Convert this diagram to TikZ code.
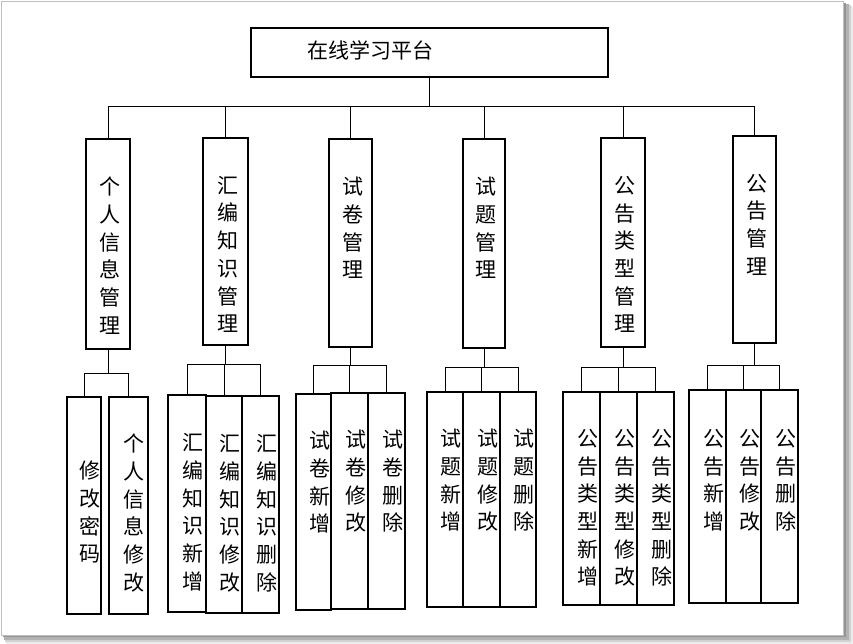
\documentclass[tikz,border=0pt]{standalone}
\usepackage{fontspec}
\newfontfamily\cjk{Noto Sans CJK SC}
\usetikzlibrary{positioning}
\begin{document}
\begin{tikzpicture}[x=1pt,y=-1pt,
    box/.style={draw,line width=1.2pt,inner sep=0pt},
    mbox/.style={box,minimum width=44pt,minimum height=208pt},
    sbox/.style={box,minimum width=37pt,minimum height=216pt},
    lbl/.style={font={\cjk\fontsize{21}{27.7}\selectfont},align=center,inner sep=0pt,anchor=north},
    conn/.style={line width=1pt}]
    \useasboundingbox (0,0) rectangle (853,644);
    % ---- page with shadow ----
    \fill[black!8] (6,6) rectangle (853,644);
    \fill[black!18] (5,5) rectangle (851,642);
    \fill[black!30] (4,4) rectangle (849,640);
    \fill[black!42] (3,3) rectangle (846,637);
    \filldraw[fill=white,draw=black!25,line width=0.6pt] (1,1) rectangle (843,635);
    % ---- root ----
    \node[box,minimum width=357pt,minimum height=49pt] (root) at (429.5,52.5) {};
    \node[lbl,anchor=center] (roott) at (370,50) {在线学习平台};
    % ---- level 2 ----
    \node[mbox,minimum height=210pt] (m1) at (108,244) {};
    \node[mbox,minimum width=45pt,minimum height=207pt] (m2) at (225.5,241.5) {};
    \node[mbox,minimum width=43pt] (m3) at (350.5,243) {};
    \node[mbox,minimum width=42pt,minimum height=209pt] (m4) at (484,243.5) {};
    \node[mbox,minimum height=209pt] (m5) at (623,242.5) {};
    \node[mbox,minimum width=43pt,minimum height=207pt] (m6) at (754.5,239.5) {};
    \node[lbl] (m1t) at ([xshift=2pt,yshift=-38.5pt]m1.north) {个\\人\\信\\息\\管\\理};
    \node[lbl] (m2t) at ([xshift=2pt,yshift=-38.5pt]m2.north) {汇\\编\\知\\识\\管\\理};
    \node[lbl] (m3t) at ([xshift=2pt,yshift=-38.5pt]m3.north) {试\\卷\\管\\理};
    \node[lbl] (m4t) at ([xshift=2pt,yshift=-38.5pt]m4.north) {试\\题\\管\\理};
    \node[lbl] (m5t) at ([xshift=2pt,yshift=-38.5pt]m5.north) {公\\告\\类\\型\\管\\理};
    \node[lbl] (m6t) at ([xshift=2pt,yshift=-38.5pt]m6.north) {公\\告\\管\\理};
    % ---- level 3 ----
    \node[sbox,minimum width=34pt,minimum height=217pt] (a1) at (84,505.5) {};
    \node[sbox,minimum width=39pt,minimum height=217pt] (a2) at (128.5,505.5) {};
    \node[sbox,minimum width=38pt,minimum height=217pt] (b1) at (187,503.5) {};
    \node[sbox,minimum width=36pt,minimum height=217pt] (b2) at (224,504.5) {};
    \node[sbox,minimum height=217pt] (b3) at (260.5,504.5) {};
    \node[sbox,minimum width=35pt] (c1) at (313.5,502) {};
    \node[sbox] (c2) at (349.5,501) {};
    \node[sbox] (c3) at (386.5,501) {};
    \node[sbox,minimum width=36pt,minimum height=215pt] (d1) at (445,499.5) {};
    \node[sbox,minimum height=215pt] (d2) at (481.5,499.5) {};
    \node[sbox,minimum width=36pt,minimum height=215pt] (d3) at (518,499.5) {};
    \node[sbox,minimum height=213pt] (e1) at (581.5,498.5) {};
    \node[sbox,minimum height=213pt] (e2) at (618.5,498.5) {};
    \node[sbox,minimum height=213pt] (e3) at (655.5,498.5) {};
    \node[sbox,minimum height=213pt] (f1) at (707.5,496.5) {};
    \node[sbox,minimum width=35pt,minimum height=213pt] (f2) at (743.5,496.5) {};
    \node[sbox,minimum height=213pt] (f3) at (779.5,496.5) {};
    \node[lbl] (a1t) at ([xshift=6pt,yshift=-64.5pt]a1.north) {修\\改\\密\\码};
    \node[lbl] (a2t) at ([xshift=5pt,yshift=-37.5pt]a2.north) {个\\人\\信\\息\\修\\改};
    \node[lbl] (b1t) at ([xshift=6pt,yshift=-39pt]b1.north) {汇\\编\\知\\识\\新\\增};
    \node[lbl] (b2t) at ([xshift=6pt,yshift=-39pt]b2.north) {汇\\编\\知\\识\\修\\改};
    \node[lbl] (b3t) at ([xshift=6pt,yshift=-39pt]b3.north) {汇\\编\\知\\识\\删\\除};
    \node[lbl] (c1t) at ([xshift=6pt,yshift=-37.5pt]c1.north) {试\\卷\\新\\增};
    \node[lbl] (c2t) at ([xshift=6pt,yshift=-37.5pt]c2.north) {试\\卷\\修\\改};
    \node[lbl] (c3t) at ([xshift=6pt,yshift=-37.5pt]c3.north) {试\\卷\\删\\除};
    \node[lbl] (d1t) at ([xshift=6pt,yshift=-37.5pt]d1.north) {试\\题\\新\\增};
    \node[lbl] (d2t) at ([xshift=6pt,yshift=-37.5pt]d2.north) {试\\题\\修\\改};
    \node[lbl] (d3t) at ([xshift=6pt,yshift=-37.5pt]d3.north) {试\\题\\删\\除};
    \node[lbl] (e1t) at ([xshift=6pt,yshift=-37.5pt]e1.north) {公\\告\\类\\型\\新\\增};
    \node[lbl] (e2t) at ([xshift=6pt,yshift=-37.5pt]e2.north) {公\\告\\类\\型\\修\\改};
    \node[lbl] (e3t) at ([xshift=6pt,yshift=-37.5pt]e3.north) {公\\告\\类\\型\\删\\除};
    \node[lbl] (f1t) at ([xshift=6pt,yshift=-39.5pt]f1.north) {公\\告\\新\\增};
    \node[lbl] (f2t) at ([xshift=6pt,yshift=-39.5pt]f2.north) {公\\告\\修\\改};
    \node[lbl] (f3t) at ([xshift=6pt,yshift=-39.5pt]f3.north) {公\\告\\删\\除};
    % ---- connectors : root to level 2 ----
    \coordinate (bus) at (0,107);
    \draw[conn] (root.south) -- (root.south |- bus);
    \draw[conn] (m1.north |- bus) -- (m6.north |- bus);
    \draw[conn] (m1.north) -- (m1.north |- bus);
    \draw[conn] (m2.north) -- (m2.north |- bus);
    \draw[conn] (m3.north) -- (m3.north |- bus);
    \draw[conn] (m4.north) -- (m4.north |- bus);
    \draw[conn] (m5.north) -- (m5.north |- bus);
    \draw[conn] (m6.north) -- (m6.north |- bus);
    % ---- connectors : level 2 to level 3 ----
    \coordinate (s1) at (0,373);
    \draw[conn] (m1.south) -- (m1.south |- s1);
    \draw[conn] (a1.north |- s1) -- (a2.north |- s1);
    \draw[conn] (a1.north) -- (a1.north |- s1);
    \draw[conn] (a2.north) -- (a2.north |- s1);
    \coordinate (s2) at (0,364);
    \draw[conn] (m2.south) -- (m2.south |- s2);
    \draw[conn] (b1.north |- s2) -- (b3.north |- s2);
    \draw[conn] (b1.north) -- (b1.north |- s2);
    \draw[conn] (b2.north) -- (b2.north |- s2);
    \draw[conn] (b3.north) -- (b3.north |- s2);
    \coordinate (s3) at (0,365);
    \draw[conn] (m3.south) -- (m3.south |- s3);
    \draw[conn] (c1.north |- s3) -- (c3.north |- s3);
    \draw[conn] (c1.north) -- (c1.north |- s3);
    \draw[conn] (c2.north) -- (c2.north |- s3);
    \draw[conn] (c3.north) -- (c3.north |- s3);
    \coordinate (s4) at (0,367);
    \draw[conn] (m4.south) -- (m4.south |- s4);
    \draw[conn] (d1.north |- s4) -- (d3.north |- s4);
    \draw[conn] (d1.north) -- (d1.north |- s4);
    \draw[conn] (d2.north) -- (d2.north |- s4);
    \draw[conn] (d3.north) -- (d3.north |- s4);
    \coordinate (s5) at (0,367);
    \draw[conn] (m5.south) -- (m5.south |- s5);
    \draw[conn] (e1.north |- s5) -- (e3.north |- s5);
    \draw[conn] (e1.north) -- (e1.north |- s5);
    \draw[conn] (e2.north) -- (e2.north |- s5);
    \draw[conn] (e3.north) -- (e3.north |- s5);
    \coordinate (s6) at (0,365);
    \draw[conn] (m6.south) -- (m6.south |- s6);
    \draw[conn] (f1.north |- s6) -- (f3.north |- s6);
    \draw[conn] (f1.north) -- (f1.north |- s6);
    \draw[conn] (f2.north) -- (f2.north |- s6);
    \draw[conn] (f3.north) -- (f3.north |- s6);
  \end{tikzpicture}
\end{document}
